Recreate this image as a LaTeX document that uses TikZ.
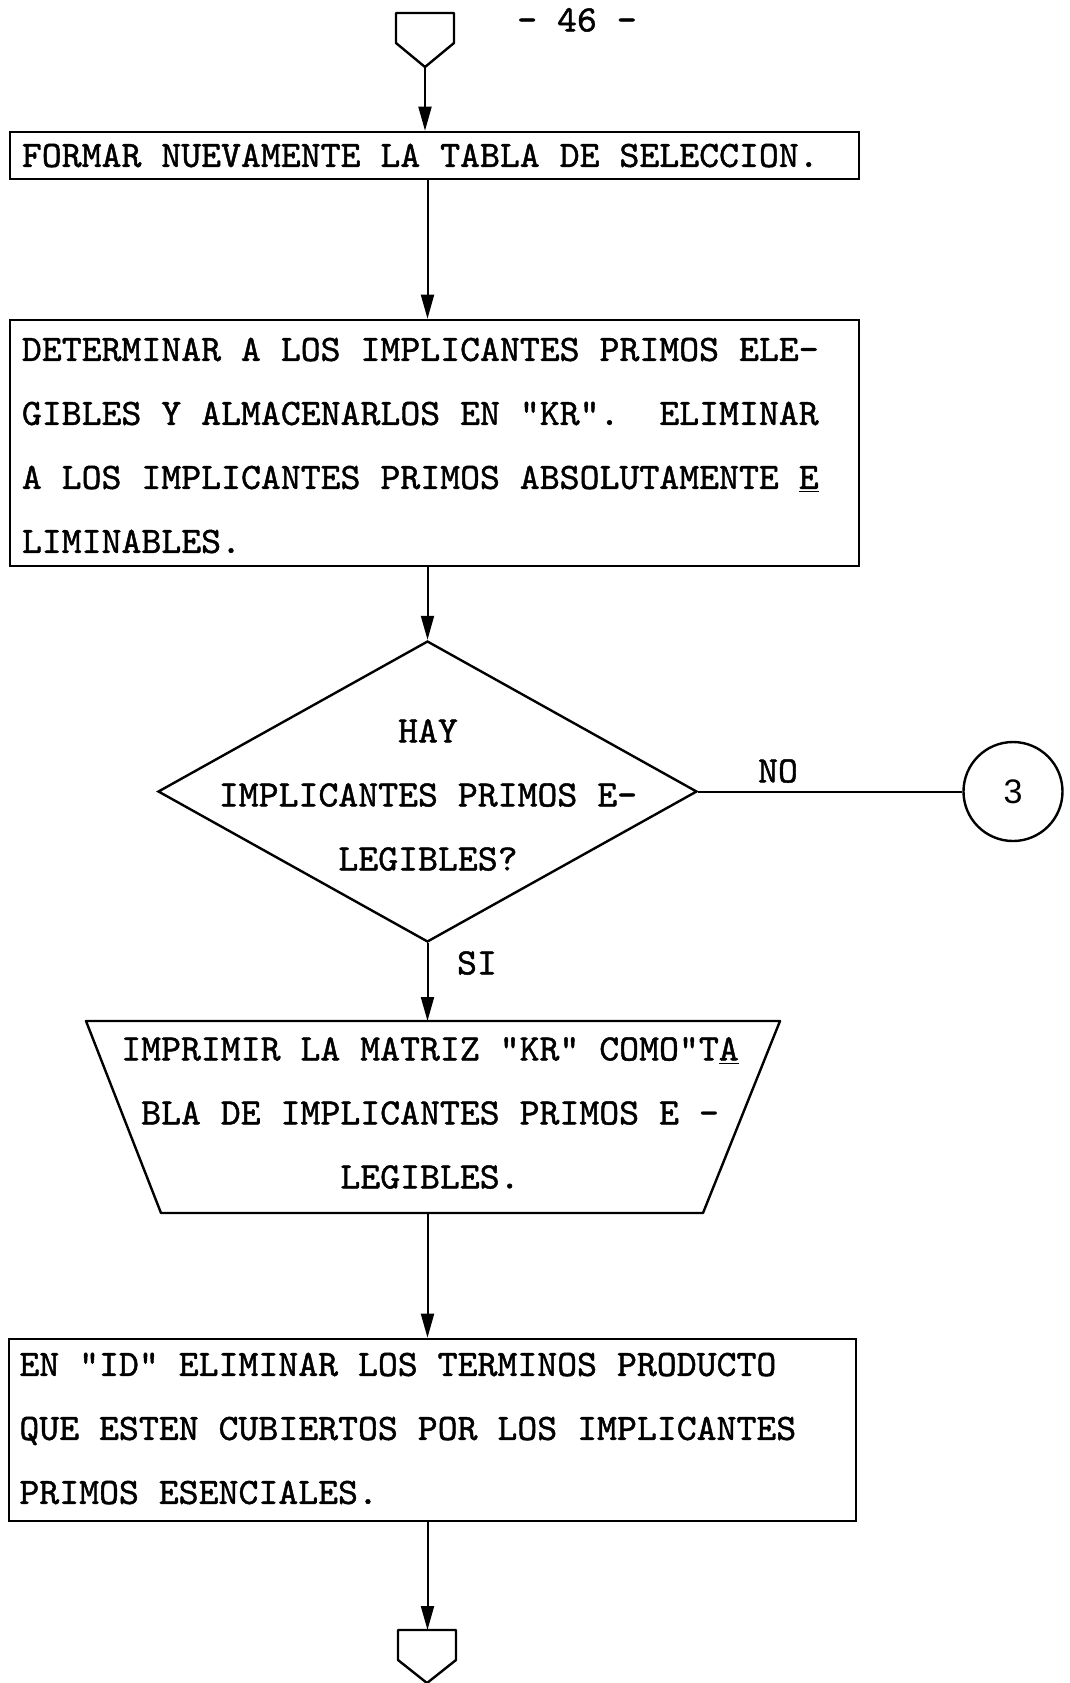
\documentclass[tikz,border=0pt]{standalone}
\usepackage{fontspec}
\setmonofont[FakeBold=1.2,FakeStretch=1.02]{lmmono10-regular.otf}
\newfontfamily\sansnum{Liberation Sans}
\usetikzlibrary{arrows.meta,shapes.geometric}
\begin{document}
\begin{tikzpicture}[x=0.5pt,y=-0.5pt,
  txt/.style={font=\ttfamily\fontsize{18.6pt}{32pt}\selectfont},
  proc/.style={draw, line width=1.3pt, rectangle, inner sep=0pt},
  body/.style={txt, inner sep=0pt, anchor=west, align=left},
  flow/.style={line width=1pt, -{Triangle[length=12pt,width=6.5pt]}},
  term/.style={line width=1.2pt, line join=round},
  lbl/.style={txt, inner sep=0pt}]
\useasboundingbox (0,0) rectangle (1070,1683);

% main flow axis
\coordinate (axis) at (427.5,0);

% page number
\node[lbl] (pagenum) at (577,20) {- 46 -};

% incoming off-page connector
\draw[term] (396,43) -- (396,13) -- (454,13) -- (454,43) -- (425,67) -- cycle;
\coordinate (topTip) at (425,67);

% process boxes
\node[proc, minimum width=424.5pt, minimum height=23.5pt] (b1) at (434.5,155.5) {};
\node[body] (b1txt) at (21.5,155.5) {FORMAR NUEVAMENTE LA TABLA DE SELECCION.};

\node[proc, minimum width=424.5pt, minimum height=123pt] (b2) at (434.5,443) {};
\node[body] (b2txt) at (21.5,445.5)
  {DETERMINAR A LOS IMPLICANTES PRIMOS ELE-\\
   GIBLES Y ALMACENARLOS EN "KR".\ \ ELIMINAR\\
   A LOS IMPLICANTES PRIMOS ABSOLUTAMENTE \underline{E}\\
   LIMINABLES.};

% decision
\node[draw, diamond, line width=1.2pt, minimum width=269.5pt, minimum height=150.5pt,
      inner sep=0pt] (dec) at (427.5,791.5) {};
\node[lbl, align=center] (dectxt) at (428,795)
  {HAY\\IMPLICANTES PRIMOS E-\\LEGIBLES?};

% connector 3
\node[draw, circle, line width=1.2pt, minimum size=49.5pt, inner sep=0pt,
      font=\sansnum\fontsize{17pt}{19pt}\selectfont] (c3) at (1013,791.5) {3};
\draw[line width=1pt] (dec.east) -- (c3.west);
\node[lbl] (no) at (778,771) {NO};
\node[lbl] (si) at (477,963) {SI};

% output (manual print) trapezoid
\draw[term] (86,1021) -- (780,1021) -- (703,1213) -- (161,1213) -- cycle;
\coordinate (tzTop) at (432,1021);
\coordinate (tzBot) at (432,1213);
\node[lbl, align=center] (tztxt) at (430,1113)
  {IMPRIMIR LA MATRIZ "KR" COMO"T\underline{A}\\
   BLA DE IMPLICANTES PRIMOS E -\\
   LEGIBLES.};

\node[proc, minimum width=423.5pt, minimum height=91pt] (b3) at (432.5,1430) {};
\node[body] (b3txt) at (19,1428.5)
  {EN "ID" ELIMINAR LOS TERMINOS PRODUCTO\\
   QUE ESTEN CUBIERTOS POR LOS IMPLICANTES\\
   PRIMOS ESENCIALES.};

% outgoing off-page connector
\draw[term] (398,1660) -- (398,1630) -- (456,1630) -- (456,1660) -- (427,1683) -- cycle;
\coordinate (botTop) at (427.5,1630);

% flow lines
\draw[flow] (topTip) -- (topTip |- b1.north);
\draw[flow] (b1.south -| axis) -- (b2.north -| axis);
\draw[flow] (b2.south -| axis) -- (dec.north);
\draw[flow] (dec.south) -- (tzTop -| axis);
\draw[flow] (tzBot -| axis) -- (b3.north -| axis);
\draw[flow] (b3.south -| axis) -- (botTop);
\end{tikzpicture}
\end{document}
